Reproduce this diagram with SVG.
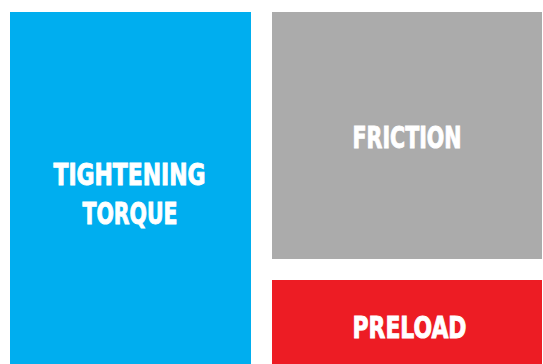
<svg xmlns="http://www.w3.org/2000/svg" width="543" height="364" viewBox="0 0 543 364">
<style>
.t{font-family:"DejaVu Sans Condensed","DejaVu Sans","Liberation Sans",sans-serif;font-weight:bold;font-size:29.5px;fill:#ffffff;stroke:#ffffff;stroke-width:0.9;text-anchor:middle}
</style>
<rect width="543" height="364" fill="#ffffff"/>
<g id="torque">
<rect x="10" y="12" width="241" height="352" fill="#00AEEF"/>
<text class="t" x="129.5" y="185" textLength="152" lengthAdjust="spacingAndGlyphs">TIGHTENING</text>
<text class="t" x="130" y="224" textLength="95" lengthAdjust="spacingAndGlyphs">TORQUE</text>
</g>
<g id="friction">
<rect x="272" y="12" width="270" height="247" fill="#ABABAB"/>
<text class="t" x="407" y="148" textLength="109" lengthAdjust="spacingAndGlyphs">FRICTION</text>
</g>
<g id="preload">
<rect x="272" y="280" width="270" height="84" fill="#ED1C24"/>
<text class="t" x="409.5" y="338" textLength="114" lengthAdjust="spacingAndGlyphs">PRELOAD</text>
</g>
<g id="connectors"></g>
</svg>
